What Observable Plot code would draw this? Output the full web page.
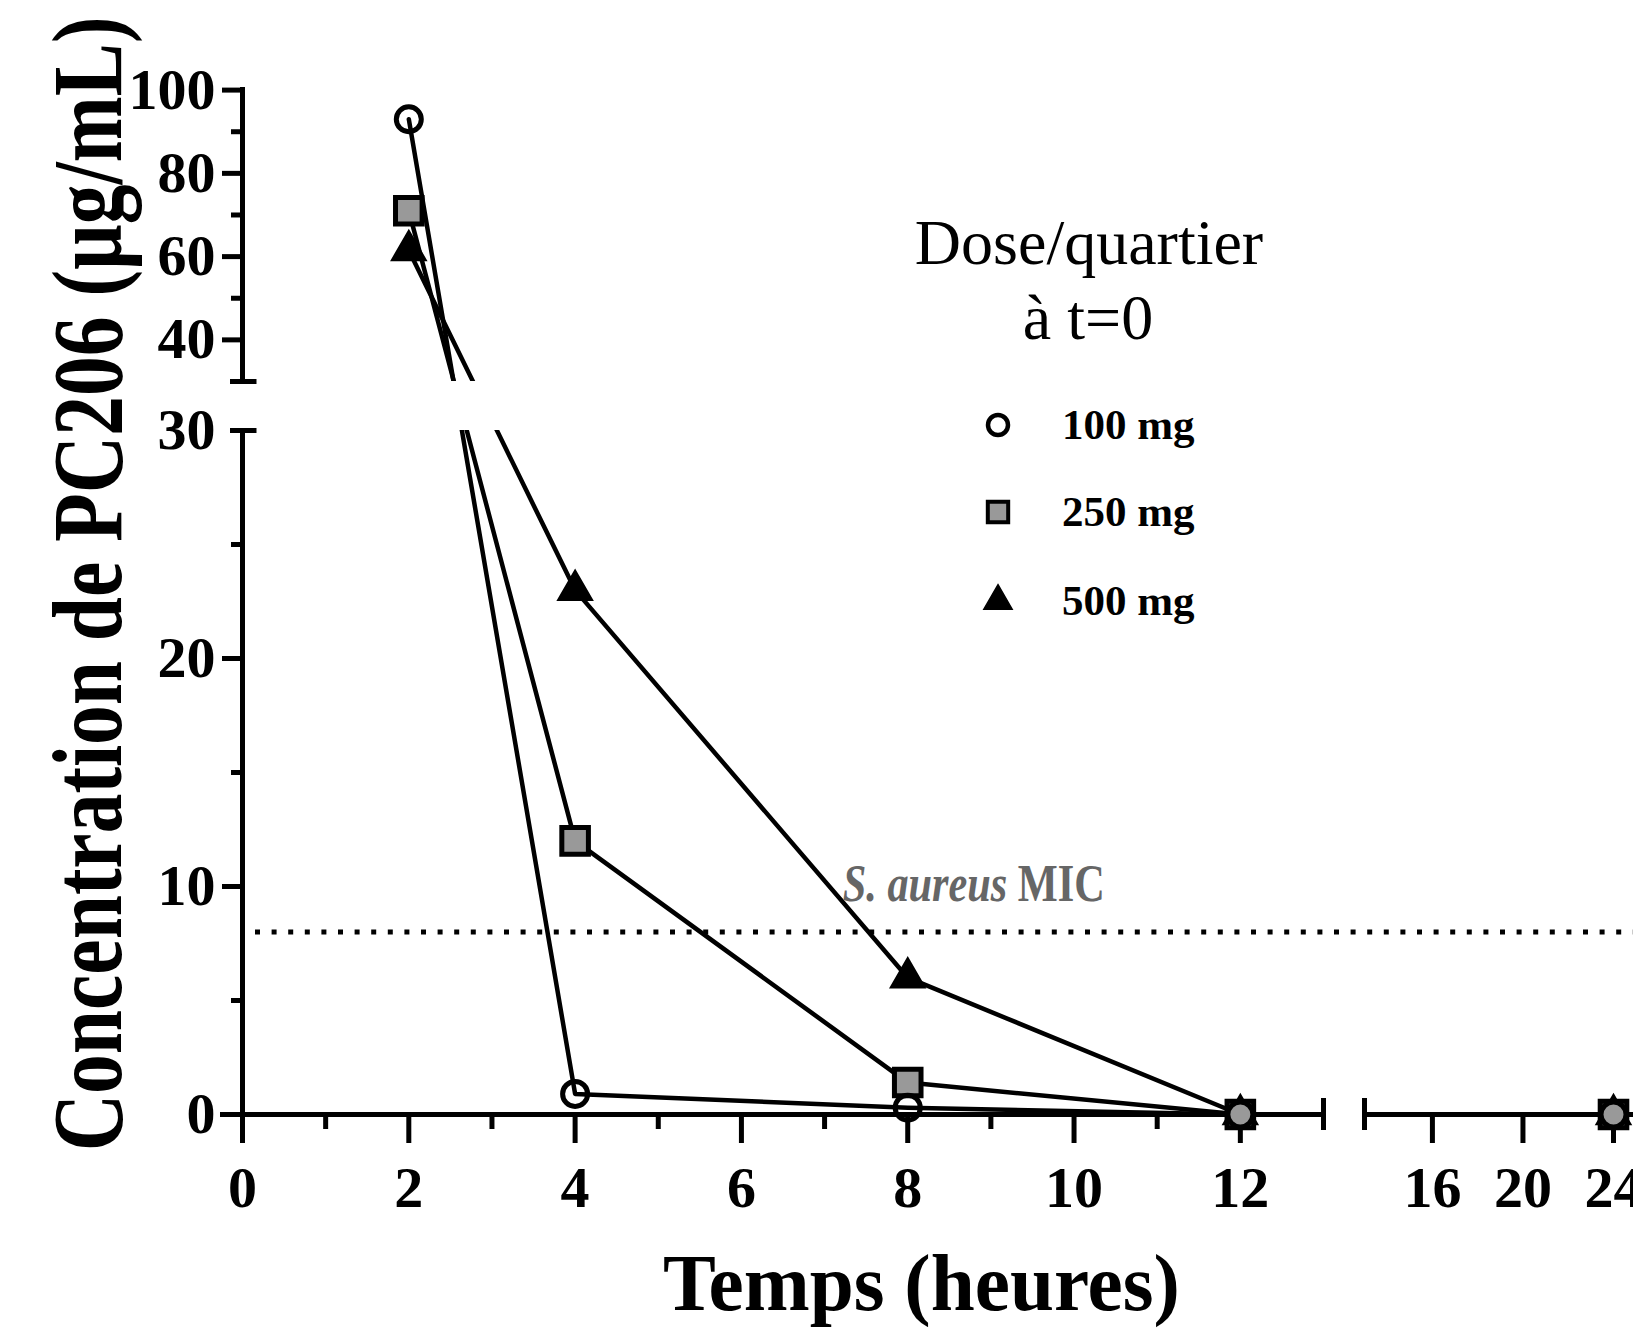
<!DOCTYPE html>
<html><head><meta charset="utf-8">
<script src="https://cdn.jsdelivr.net/npm/d3@7"></script>
<script src="https://cdn.jsdelivr.net/npm/@observablehq/plot@0.6"></script>
<style>
html,body{margin:0;padding:0;background:#fff;}
#chart{position:relative;width:1633px;height:1335px;overflow:hidden;background:#fff;}
</style></head><body><div id="chart"></div>
<script>
// ---------- data ----------
const times = [2, 4, 8, 12, 24];
const conc100 = [93, 0.9, 0.3, 0, 0];
const conc250 = [71, 12, 1.4, 0, 0];
const conc500 = [61.5, 23, 6, 0, 0];
const doses = ["100 mg", "250 mg", "500 mg"];
const micValue = 8;
const micItalic = "S. aureus";
const micRest = " MIC";
const xMajorA = [0, 2, 4, 6, 8, 10, 12];
const xMinorA = [1, 3, 5, 7, 9, 11];
const xMajorB = [16, 20, 24];
const yMajorLow = [0, 10, 20, 30];
const yMinorLow = [5, 15, 25];
const yMajorHigh = [40, 60, 80, 100];
const yMinorHigh = [50, 70, 90];
const xTitle = "Temps (heures)";
const yTitle = "Concentration de PC206 (µg/mL)";
const legendTitle = ["Dose/quartier", "à t=0"];

// ---------- layout (broken axes as piecewise scales) ----------
const W = 1633, H = 1335;
const X_BREAK = 13, X_BREAK2 = 13.0001;
const Y_BREAK = 30, Y_BREAK2 = 30.0001;
const X_DOMAIN = [0, X_BREAK, X_BREAK2, 24];
const X_RANGE = [242, 1323, 1364, 1613];
const Y_DOMAIN = [0, Y_BREAK, Y_BREAK2, 100];
const Y_RANGE = [1114, 430, 381, 89.6];
const xpx = (X_RANGE[1] - X_RANGE[0]) / (X_DOMAIN[1] - X_DOMAIN[0]);
const ypx = (Y_RANGE[0] - Y_RANGE[1]) / (Y_DOMAIN[1] - Y_DOMAIN[0]);
const FONT = "'Liberation Serif', 'Times New Roman', Times, serif";

const series = [
  {dose: doses[0], values: conc100},
  {dose: doses[1], values: conc250},
  {dose: doses[2], values: conc500}
];
const rows = series.flatMap(s => times.map((t, i) => ({time: t, conc: s.values[i], dose: s.dose})));
const lineRows = rows.filter(d => d.time <= 12);
const byDose = k => rows.filter(d => d.dose === doses[k]);

const axisW = 5;
const plot = Plot.plot({
  width: W, height: H,
  marginTop: 0, marginRight: 0, marginBottom: 0, marginLeft: 0,
  x: {type: "linear", domain: X_DOMAIN, range: X_RANGE, axis: null},
  y: {type: "linear", domain: Y_DOMAIN, range: Y_RANGE, axis: null},
  style: {background: "white", fontFamily: FONT},
  marks: [
    Plot.line(lineRows, {x: "time", y: "conc", z: "dose", stroke: "black", strokeWidth: 4.5}),
    // gap of the broken y axis hides the lines
    Plot.rect([0], {x1: 1, x2: 12, y1: Y_BREAK, y2: Y_BREAK2, fill: "white"}),
    // MIC dotted line
    Plot.ruleY([micValue], {x1: 13 / xpx, x2: 25, stroke: "black", strokeWidth: 5, strokeDasharray: "5,11.6"}),
    // axis lines
    Plot.ruleY([0], {x1: -22 / xpx, x2: X_BREAK, stroke: "black", strokeWidth: axisW}),
    Plot.ruleY([0], {x1: X_BREAK2, x2: 25, stroke: "black", strokeWidth: axisW}),
    Plot.ruleX([0], {y1: 0, y2: Y_BREAK, stroke: "black", strokeWidth: axisW}),
    Plot.ruleX([0], {y1: Y_BREAK2, y2: 100 + 2.5 / 4.16, stroke: "black", strokeWidth: axisW}),
    // x ticks
    Plot.ruleX(xMajorA.concat(xMajorB), {x: d => d, y1: 0, y2: -29 / ypx, stroke: "black", strokeWidth: axisW}),
    Plot.ruleX(xMinorA, {x: d => d, y1: 0, y2: -15 / ypx, stroke: "black", strokeWidth: axisW}),
    Plot.ruleX([X_BREAK, X_BREAK2], {x: d => d, y1: -16 / ypx, y2: 16 / ypx, stroke: "black", strokeWidth: axisW}),
    // y ticks
    Plot.ruleY(yMajorLow.concat(yMajorHigh).filter(v => v !== 0 && v !== Y_BREAK), {y: d => d, x1: -20 / xpx, x2: 0, stroke: "black", strokeWidth: axisW}),
    Plot.ruleY(yMinorLow.concat(yMinorHigh), {y: d => d, x1: -11 / xpx, x2: 0, stroke: "black", strokeWidth: axisW}),
    Plot.ruleY([Y_BREAK, Y_BREAK2], {y: d => d, x1: -12 / xpx, x2: 14.5 / xpx, stroke: "black", strokeWidth: axisW}),
    // tick labels
    Plot.text(xMajorA.concat(xMajorB), {x: d => d, y: 0, dy: 74, text: d => String(d), fontSize: 58, fontWeight: "bold", fill: "black", ariaLabel: "xlabels"}),
    Plot.text(yMajorLow.concat(yMajorHigh), {x: 0, y: d => d, dx: -27, textAnchor: "end", text: d => String(d), fontSize: 58, fontWeight: "bold", fill: "black", ariaLabel: "ylabels"}),
    // markers
    Plot.dot(byDose(2), {x: "time", y: "conc", symbol: "triangle", r: 12, fill: "black", stroke: "black", strokeWidth: 3, ariaLabel: "m500"}),
    Plot.dot(byDose(1), {x: "time", y: "conc", symbol: "square", r: 15, fill: "#999999", stroke: "black", strokeWidth: 5, ariaLabel: "m250"}),
    Plot.dot(byDose(0), {x: "time", y: "conc", symbol: "circle", r: 12.5, fill: "none", stroke: "black", strokeWidth: 5, ariaLabel: "m100"})
  ]
});
document.getElementById("chart").appendChild(plot);

const svg = d3.select(plot);
function squeezeEl(el, k) {
  const t = el.getAttribute("transform");
  if (t) { el.setAttribute("transform", t + ` scale(${k},1)`); return; }
  const isC = el.tagName.toLowerCase() === "circle";
  const x = +el.getAttribute(isC ? "cx" : "x") || 0, y = +el.getAttribute(isC ? "cy" : "y") || 0;
  el.setAttribute("transform", `translate(${x},${y}) scale(${k},1) translate(${-x},${-y})`);
}
["xlabels", "ylabels"].forEach(l => svg.selectAll(`g[aria-label="${l}"] text`).each(function () { squeezeEl(this, 0.86); }));
["m500", "m250", "m100"].forEach(l => svg.selectAll(`g[aria-label="${l}"] > *`).each(function () { squeezeEl(this, 0.9); }));

// ---------- annotations: titles, MIC label, legend ----------
const ann = svg.append("g").attr("font-family", FONT);
function addText({x, y, text, size, weight = "bold", anchor = "middle", rotate = 0, width = null, sx = 1, sy = 1, fill = "black", parts = null}) {
  const g = ann.append("g").attr("transform", `translate(${x},${y}) rotate(${rotate})`);
  const t = g.append("text").attr("font-size", size).attr("font-weight", weight).attr("text-anchor", anchor).attr("fill", fill);
  if (parts) parts.forEach(p => t.append("tspan").attr("font-style", p.style || "normal").text(p.text));
  else t.text(text);
  let k = sx;
  if (width) k = width / t.node().getComputedTextLength();
  t.attr("transform", `scale(${k},${sy})`);
  return t;
}
const xs = plot.scale("x"), ys = plot.scale("y");
addText({x: 121, y: 584, rotate: -90, text: yTitle, size: 106, sy: 0.93, width: 1135});
addText({x: 921.5, y: 1310, text: xTitle, size: 80, width: 517});
addText({x: xs.apply(8.8), y: ys.apply(micValue) - 31, parts: [{text: micItalic, style: "italic"}, {text: micRest}], size: 52, width: 262, fill: "#666666"});
addText({x: 1089, y: 263.5, text: legendTitle[0], size: 64, weight: "normal"});
addText({x: 1088, y: 338.5, text: legendTitle[1], size: 64, weight: "normal"});

const legendSym = [
  {type: d3.symbolCircle, r: 10, fill: "none", sw: 4.5},
  {type: d3.symbolSquare, r: 11.5, fill: "#999999", sw: 4},
  {type: d3.symbolTriangle, r: 10.5, fill: "black", sw: 1.5}
];
const legendY = [425, 512, 601];
doses.forEach((d, i) => {
  const s = legendSym[i];
  ann.append("path").attr("transform", `translate(998,${legendY[i]})`)
    .attr("d", d3.symbol(s.type, Math.PI * s.r * s.r)())
    .attr("fill", s.fill).attr("stroke", "black").attr("stroke-width", s.sw);
  addText({x: 1062, y: legendY[i] + 14, text: d, size: 43, anchor: "start"});
});
</script></body></html>
